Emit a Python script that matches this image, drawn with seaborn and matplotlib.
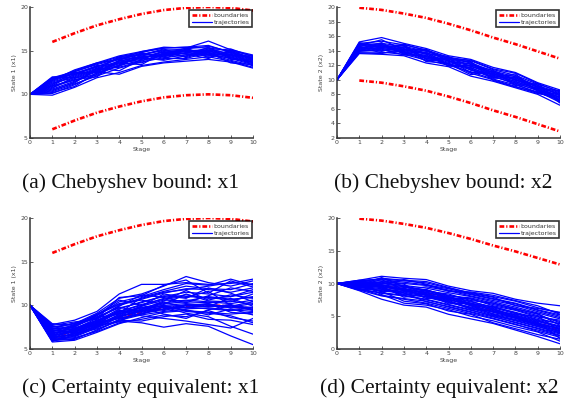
import numpy as np
import pandas as pd
import matplotlib
matplotlib.use("Agg")
import matplotlib.pyplot as plt
import seaborn as sns
from matplotlib.lines import Line2D

stages = list(range(11))
bound_stages = list(range(1, 11))

# boundaries
upper_x1 = [16.0, 17.0, 17.9, 18.6, 19.2, 19.65, 19.9, 20.0, 19.9, 19.6]
lower_x1 = [6.0, 7.0, 7.9, 8.6, 9.2, 9.65, 9.9, 10.0, 9.9, 9.6]
upper_x2 = [19.9, 19.6, 19.1, 18.5, 17.7, 16.8, 15.8, 14.9, 13.9, 12.9]
lower_x2 = [9.9, 9.6, 9.1, 8.5, 7.7, 6.8, 5.8, 4.9, 3.9, 2.9]

# (a) Chebyshev bound: x1
traj_a = [
    [10, 11.9, 12.6, 13.5, 14.3, 14.8, 15.3, 15.4, 15.3, 15.0, 14.4],
    [10, 11.5, 12.4, 13.2, 14.0, 14.6, 15.0, 15.2, 15.5, 14.9, 14.2],
    [10, 11.2, 12.1, 13.0, 13.8, 14.4, 14.8, 15.0, 15.1, 14.7, 14.0],
    [10, 10.9, 11.8, 12.7, 13.5, 14.2, 14.6, 14.9, 14.9, 14.5, 13.8],
    [10, 10.6, 11.5, 12.4, 13.3, 13.9, 14.4, 14.7, 14.8, 14.3, 13.6],
    [10, 10.3, 11.2, 12.1, 13.0, 13.7, 14.2, 14.5, 14.6, 14.1, 13.4],
    [10, 9.9, 10.8, 11.9, 12.5, 13.3, 13.7, 14.0, 14.3, 13.8, 13.1],
    [10, 11.7, 12.7, 13.6, 14.4, 14.9, 15.4, 15.3, 16.1, 15.1, 14.5],
    [10, 11.0, 11.6, 12.6, 12.3, 13.2, 13.6, 13.8, 14.0, 13.7, 13.0],
    [10, 11.8, 12.3, 13.1, 14.2, 14.5, 15.1, 15.0, 15.0, 15.2, 14.3],
    [10, 10.7, 12.0, 12.9, 13.6, 14.0, 14.9, 14.6, 14.4, 14.6, 13.9],
    [10, 11.3, 11.9, 12.2, 13.4, 14.3, 14.5, 15.1, 14.7, 14.4, 13.7],
    [10, 10.4, 11.4, 12.8, 13.1, 13.8, 14.7, 14.3, 15.2, 14.2, 13.5],
    [10, 11.6, 12.5, 12.5, 13.9, 14.7, 14.3, 14.8, 14.5, 14.8, 14.1],
    [10, 10.1, 11.1, 12.3, 13.7, 14.1, 14.0, 15.2, 14.6, 13.9, 13.3],
    [10, 11.4, 12.2, 13.3, 13.2, 14.5, 15.2, 14.2, 15.0, 14.4, 14.4],
    [10, 10.8, 11.7, 12.0, 13.9, 13.6, 14.6, 15.3, 14.2, 15.0, 13.2],
    [10, 11.1, 12.6, 13.4, 14.1, 14.2, 13.9, 14.4, 15.4, 14.0, 14.0],
    [10, 12.0, 11.9, 12.8, 14.3, 14.6, 14.5, 15.0, 14.9, 14.6, 13.6],
    [10, 10.5, 11.3, 13.0, 12.7, 14.0, 15.0, 14.6, 14.1, 15.1, 13.9],
    [10, 11.9, 12.4, 13.2, 13.6, 13.4, 14.8, 14.7, 15.3, 14.5, 14.2],
    [10, 10.2, 10.9, 12.5, 13.3, 14.8, 14.1, 14.1, 14.8, 13.6, 13.4],
    [10, 11.6, 12.8, 13.6, 14.0, 14.9, 15.3, 15.4, 15.6, 14.8, 14.1],
    [10, 11.0, 12.3, 12.6, 13.8, 14.3, 14.4, 15.1, 14.5, 14.2, 13.7],
]

# (b) Chebyshev bound: x2
traj_b = [
    [10, 15.2, 15.8, 15.0, 14.3, 13.3, 12.8, 11.7, 11.0, 9.6, 8.6],
    [10, 15.0, 15.3, 14.8, 14.1, 13.1, 12.6, 11.4, 10.6, 9.4, 8.4],
    [10, 14.8, 15.0, 14.6, 13.9, 13.0, 12.3, 11.2, 10.4, 9.2, 8.2],
    [10, 14.6, 14.8, 14.4, 13.7, 12.8, 12.1, 11.0, 10.2, 9.0, 8.0],
    [10, 14.4, 14.6, 14.2, 13.5, 12.6, 11.9, 10.8, 10.0, 8.8, 7.8],
    [10, 14.2, 14.3, 14.0, 13.3, 12.4, 11.6, 10.6, 9.8, 8.7, 7.6],
    [10, 14.0, 14.1, 13.8, 13.0, 12.2, 11.4, 10.4, 9.6, 8.5, 7.4],
    [10, 13.8, 13.8, 13.5, 12.7, 12.0, 11.1, 10.1, 9.3, 8.3, 7.2],
    [10, 13.6, 13.5, 13.3, 12.3, 11.8, 10.5, 9.8, 8.9, 8.0, 6.5],
    [10, 15.1, 14.4, 14.9, 14.0, 12.9, 12.7, 11.5, 10.9, 9.5, 8.3],
    [10, 14.9, 14.0, 14.5, 13.6, 13.2, 11.8, 11.1, 10.0, 9.1, 7.9],
    [10, 14.7, 15.5, 14.1, 14.2, 12.5, 12.2, 10.7, 10.5, 8.9, 7.5],
    [10, 14.5, 13.7, 13.9, 12.9, 12.7, 11.0, 10.9, 9.5, 8.6, 7.1],
    [10, 14.3, 14.9, 13.6, 13.8, 12.1, 11.7, 10.3, 10.8, 8.4, 6.9],
    [10, 14.1, 14.5, 14.7, 12.5, 12.3, 10.9, 10.0, 9.1, 8.1, 7.7],
    [10, 13.9, 14.2, 13.4, 13.4, 11.9, 12.0, 11.3, 9.9, 9.3, 6.8],
    [10, 13.7, 13.6, 14.3, 13.1, 12.9, 11.3, 10.5, 9.4, 8.2, 7.3],
    [10, 15.0, 14.7, 13.7, 14.1, 12.6, 11.5, 10.2, 10.3, 9.0, 8.1],
    [10, 14.6, 13.9, 14.8, 12.8, 13.0, 12.4, 10.9, 9.7, 8.8, 8.5],
    [10, 14.2, 15.1, 13.5, 13.2, 12.2, 10.7, 11.2, 9.2, 9.5, 7.0],
    [10, 14.8, 14.4, 14.1, 13.6, 11.9, 11.9, 10.6, 10.1, 8.6, 7.6],
    [10, 14.0, 14.8, 13.9, 12.6, 12.8, 12.5, 9.9, 9.0, 8.3, 8.0],
]

# (c) Certainty equivalent: x1
traj_c = [
    [10, 7.8, 8.3, 9.3, 11.3, 12.4, 12.4, 12.6, 12.4, 12.5, 13.0],
    [10, 7.5, 7.9, 9.1, 10.8, 11.3, 12.2, 13.3, 12.6, 12.2, 12.8],
    [10, 7.3, 7.6, 8.8, 10.4, 11.0, 11.8, 12.5, 12.3, 13.0, 12.3],
    [10, 7.0, 7.3, 8.5, 10.0, 10.7, 11.4, 11.9, 11.8, 11.5, 12.0],
    [10, 6.8, 7.1, 8.2, 9.6, 10.4, 11.0, 11.5, 11.3, 11.0, 11.5],
    [10, 6.6, 6.9, 7.9, 9.3, 10.1, 10.7, 11.0, 10.9, 10.6, 11.0],
    [10, 6.4, 6.6, 7.6, 9.0, 9.7, 10.3, 10.6, 10.4, 10.2, 10.6],
    [10, 6.2, 6.4, 7.4, 8.7, 9.4, 10.0, 10.2, 10.0, 9.8, 10.2],
    [10, 6.0, 6.2, 7.1, 8.4, 9.0, 9.6, 9.8, 9.6, 9.4, 9.7],
    [10, 5.8, 6.0, 6.9, 7.9, 8.6, 9.2, 9.4, 9.2, 9.0, 9.2],
    [10, 7.6, 7.4, 8.0, 9.5, 8.8, 8.5, 8.2, 7.8, 7.4, 8.5],
    [10, 7.2, 6.8, 7.3, 8.2, 8.0, 7.5, 7.9, 7.6, 6.5, 5.5],
    [10, 6.5, 7.8, 8.6, 9.8, 9.2, 9.8, 9.1, 8.7, 7.6, 6.7],
    [10, 6.9, 7.0, 7.8, 8.9, 9.9, 11.3, 10.9, 11.6, 10.0, 9.5],
    [10, 7.7, 8.1, 8.4, 9.9, 11.2, 10.9, 10.3, 11.1, 12.0, 11.6],
    [10, 6.3, 6.7, 7.7, 8.1, 9.5, 10.5, 11.7, 10.6, 11.2, 10.8],
    [10, 7.1, 7.5, 8.9, 10.6, 10.0, 9.4, 10.0, 9.9, 10.8, 9.9],
    [10, 6.1, 6.3, 7.0, 8.0, 8.4, 8.9, 8.7, 9.4, 8.6, 8.2],
    [10, 7.4, 7.2, 8.3, 9.1, 10.9, 11.6, 12.2, 11.9, 11.8, 12.5],
    [10, 6.7, 6.5, 7.5, 8.6, 9.6, 9.9, 9.5, 8.9, 9.6, 8.9],
    [10, 7.9, 7.7, 9.0, 10.2, 10.6, 10.1, 11.3, 10.5, 10.4, 11.3],
    [10, 6.0, 6.1, 7.2, 8.3, 8.2, 8.7, 9.0, 8.4, 8.3, 7.8],
    [10, 7.0, 7.8, 8.7, 9.7, 10.3, 11.1, 10.8, 12.0, 11.4, 10.4],
    [10, 6.6, 7.0, 8.1, 9.4, 9.3, 10.4, 9.7, 10.2, 9.2, 9.0],
    [10, 7.3, 8.0, 8.5, 10.9, 11.1, 12.3, 12.9, 11.4, 12.8, 12.1],
    [10, 6.2, 6.8, 7.6, 8.8, 9.8, 9.0, 8.5, 9.5, 9.9, 10.4],
    [10, 6.3, 7.1, 8.0, 8.5, 9.1, 9.6, 10.0, 10.1, 9.8, 9.5],
    [10, 5.9, 6.9, 7.8, 8.7, 9.3, 9.8, 9.8, 9.9, 10.0, 9.7],
    [10, 6.5, 7.2, 7.7, 8.8, 9.4, 9.5, 10.1, 9.8, 10.1, 9.4],
    [10, 6.0, 6.6, 8.1, 8.5, 9.0, 9.9, 10.0, 10.2, 9.7, 9.8],
    [10, 6.4, 7.3, 8.2, 9.1, 9.5, 10.2, 10.4, 10.3, 10.5, 10.1],
    [10, 5.9, 6.5, 7.5, 8.3, 8.9, 9.3, 9.6, 9.7, 9.5, 9.3],
    [10, 6.8, 7.4, 8.3, 9.3, 10.0, 10.8, 11.2, 10.8, 11.0, 11.8],
    [10, 7.5, 7.9, 8.9, 10.1, 10.8, 11.5, 11.8, 12.2, 12.6, 12.4],
    [10, 6.7, 7.6, 8.6, 9.0, 9.9, 10.6, 10.5, 11.0, 10.7, 10.9],
    [10, 7.2, 7.0, 7.9, 9.2, 9.7, 10.0, 9.3, 9.1, 8.8, 8.0],
]

# (d) Certainty equivalent: x2
traj_d = [
    [10, 10.5, 11.1, 10.8, 10.6, 9.6, 8.9, 8.5, 7.6, 7.0, 6.6],
    [10, 10.4, 10.7, 10.4, 10.1, 9.3, 8.6, 8.0, 7.3, 6.3, 5.5],
    [10, 10.3, 10.4, 10.0, 9.7, 9.0, 8.3, 7.6, 6.9, 5.9, 5.0],
    [10, 10.1, 10.1, 9.7, 9.3, 8.6, 8.0, 7.2, 6.4, 5.5, 4.6],
    [10, 10.0, 9.8, 9.4, 9.0, 8.2, 7.6, 6.8, 6.0, 5.1, 4.2],
    [10, 9.8, 9.5, 9.1, 8.6, 7.9, 7.2, 6.4, 5.6, 4.7, 3.8],
    [10, 9.6, 9.2, 8.8, 8.3, 7.5, 6.8, 6.0, 5.2, 4.3, 3.4],
    [10, 9.4, 8.9, 8.5, 7.9, 7.1, 6.4, 5.6, 4.8, 3.9, 3.0],
    [10, 9.2, 8.5, 8.1, 7.5, 6.7, 5.9, 5.1, 4.3, 3.4, 2.5],
    [10, 9.0, 8.1, 7.6, 7.0, 6.2, 5.4, 4.6, 3.7, 2.9, 2.0],
    [10, 8.9, 7.6, 6.7, 6.4, 5.3, 4.6, 3.9, 2.9, 1.9, 0.8],
    [10, 10.2, 9.9, 10.6, 9.9, 8.8, 8.7, 8.2, 7.4, 6.6, 5.3],
    [10, 9.7, 10.9, 9.5, 8.8, 8.4, 7.4, 7.0, 6.1, 5.4, 3.6],
    [10, 10.4, 9.3, 8.2, 9.1, 7.7, 7.7, 6.6, 5.9, 4.9, 4.4],
    [10, 9.5, 10.3, 9.9, 8.1, 7.3, 6.1, 5.8, 5.3, 5.0, 2.8],
    [10, 9.9, 8.7, 9.3, 7.7, 8.0, 6.6, 5.3, 4.5, 3.7, 3.2],
    [10, 9.3, 9.6, 7.9, 8.5, 6.9, 7.0, 6.2, 4.9, 4.1, 1.6],
    [10, 10.2, 8.3, 7.0, 6.7, 6.0, 5.0, 4.3, 3.4, 2.6, 1.2],
    [10, 9.7, 10.6, 9.0, 9.5, 8.9, 8.1, 7.4, 6.7, 5.7, 4.8],
    [10, 9.1, 9.0, 8.6, 7.2, 6.5, 5.7, 4.9, 4.1, 3.2, 2.3],
    [10, 10.0, 9.4, 8.3, 8.0, 7.8, 6.9, 6.5, 5.5, 4.5, 3.9],
    [10, 9.5, 8.8, 7.3, 6.9, 5.8, 5.3, 4.0, 3.1, 2.2, 1.5],
    [10, 9.9, 10.2, 9.6, 9.0, 8.1, 7.8, 7.0, 6.2, 5.3, 4.0],
    [10, 9.3, 9.7, 8.9, 8.2, 7.4, 6.3, 5.4, 4.7, 3.6, 2.7],
    [10, 9.8, 9.7, 9.2, 8.4, 7.6, 6.7, 5.7, 5.0, 4.0, 3.1],
    [10, 10.0, 9.5, 9.0, 8.6, 7.8, 6.9, 5.9, 4.8, 3.8, 2.8],
    [10, 9.6, 9.4, 9.2, 8.7, 7.9, 7.0, 6.1, 5.1, 4.2, 3.3],
    [10, 10.1, 9.8, 8.9, 8.3, 7.6, 6.6, 5.7, 4.7, 3.7, 2.6],
    [10, 9.4, 9.1, 8.7, 8.0, 7.2, 6.2, 5.2, 4.4, 3.5, 2.4],
    [10, 10.3, 10.0, 9.5, 8.9, 8.0, 7.3, 6.3, 5.4, 4.4, 3.5],
    [10, 9.0, 8.6, 8.2, 7.6, 6.8, 6.0, 5.0, 4.0, 3.1, 2.1],
    [10, 10.5, 10.6, 10.2, 9.8, 9.2, 8.4, 7.7, 7.0, 6.0, 5.2],
    [10, 9.2, 8.2, 7.7, 7.3, 6.4, 5.6, 4.7, 3.8, 2.7, 1.8],
    [10, 10.2, 10.8, 10.5, 10.3, 9.4, 8.5, 7.9, 6.6, 6.2, 5.6],
]

captions = ["(a) Chebyshev bound: x1", "(b) Chebyshev bound: x2",
            "(c) Certainty equivalent: x1", "(d) Certainty equivalent: x2"]
ylabels = ["State 1 (x1)", "State 2 (x2)", "State 1 (x1)", "State 2 (x2)"]
yticks_list = [[5, 10, 15, 20], list(range(2, 21, 2)), [5, 10, 15, 20], [0, 5, 10, 15, 20]]
ylims = [(5, 20), (2, 20), (5, 20), (0, 20)]

sns.set_theme(style="white")
plt.rcParams['font.family'] = ['DejaVu Sans']

W, H = 575, 409
fig = plt.figure(figsize=(W / 100, H / 100), dpi=100)

panels = [
    (traj_a, upper_x1, lower_x1, (30, 7)),
    (traj_b, upper_x2, lower_x2, (337, 7)),
    (traj_c, upper_x1, lower_x1, (30, 218)),
    (traj_d, upper_x2, lower_x2, (337, 218)),
]
cap_pos = [(131, 183), (443, 183), (141, 388), (439, 388)]
dash = (0, (1.8, 0.75, 0.45, 0.75))

for i, (traj, up, lo, (lx, ty)) in enumerate(panels):
    aw, ah = 223, 131
    ax = fig.add_axes([lx / W, 1 - (ty + ah) / H, aw / W, ah / H])
    bdf = pd.DataFrame({"stage": bound_stages * 2,
                        "value": up + lo,
                        "which": ["up"] * len(up) + ["lo"] * len(lo)})
    sns.lineplot(data=bdf, x="stage", y="value", units="which", estimator=None,
                 color="#ff0000", lw=1.9, linestyle=dash, ax=ax)
    rows = []
    for k, t in enumerate(traj):
        for s, v in zip(stages, t):
            rows.append((k, s, v))
    tdf = pd.DataFrame(rows, columns=["traj", "stage", "value"])
    sns.lineplot(data=tdf, x="stage", y="value", units="traj", estimator=None,
                 color="#0000ff", lw=0.9, ax=ax)
    ax.set_xlim(0, 10)
    ax.set_ylim(*ylims[i])
    ax.set_xticks(stages)
    ax.set_yticks(yticks_list[i])
    for sp in ["top", "right"]:
        ax.spines[sp].set_visible(False)
    for sp in ["left", "bottom"]:
        ax.spines[sp].set_color("#333333")
        ax.spines[sp].set_linewidth(1.1)
    ax.tick_params(direction="in", length=2, width=0.6, labelsize=4.5,
                   colors="#444444", pad=1.5, left=True, bottom=True)
    ax.set_xlabel("Stage", fontsize=4.5, color="#444444", labelpad=1.5)
    ax.set_ylabel(ylabels[i], fontsize=4.5, color="#444444", labelpad=2)
    handles = [Line2D([], [], color="#ff0000", lw=1.9, linestyle=dash),
               Line2D([], [], color="#0000ff", lw=0.9)]
    leg = ax.legend(handles, ["boundaries", "trajectories"], loc="upper right",
                    bbox_to_anchor=(0.995, 0.975), fontsize=4.5, frameon=True,
                    fancybox=False, handlelength=3.2, handletextpad=0.35,
                    borderpad=0.35, labelspacing=0.3, borderaxespad=0.0)
    leg.get_frame().set_edgecolor("black")
    leg.get_frame().set_linewidth(1.2)
    for txt in leg.get_texts():
        txt.set_color("#333333")
    cx, cy = cap_pos[i]
    fig.text(cx / W, 1 - cy / H, captions[i], ha="center", va="center",
             fontsize=15.5, family="Liberation Serif", color="#111111")

fig.savefig("out.png", dpi=100)
